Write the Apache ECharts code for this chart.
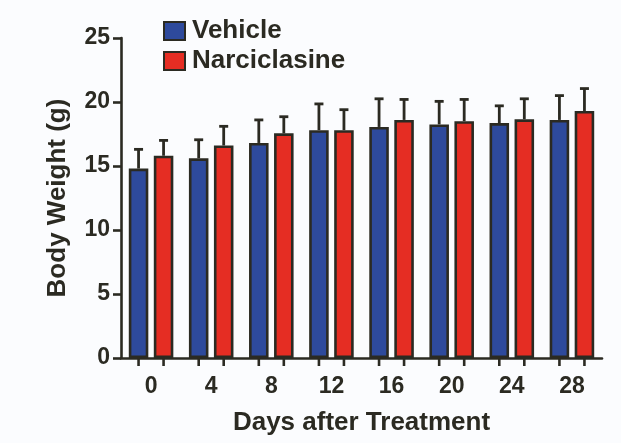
<!DOCTYPE html>
<html>
<head>
<meta charset="utf-8">
<script src="https://cdn.jsdelivr.net/npm/echarts@6/dist/echarts.min.js"></script>
<style>
html,body{margin:0;padding:0;background:#fbfcfe;}
#chart{width:621px;height:443px;}
</style>
</head>
<body>
<div id="chart"></div>
<script>
const categories = ['0', '4', '8', '12', '16', '20', '24', '28'];
const vehicleMean = [14.8, 15.6, 16.8, 17.8, 18.05, 18.25, 18.35, 18.6];
const vehicleErr = [1.5, 1.45, 1.8, 2.05, 2.2, 1.8, 1.35, 1.9];
const narcMean = [15.8, 16.6, 17.55, 17.8, 18.6, 18.5, 18.65, 19.3];
const narcErr = [1.2, 1.5, 1.3, 1.6, 1.6, 1.7, 1.6, 1.75];
const yTicks = [0, 5, 10, 15, 20, 25];

const INK = '#2b2a22';
const FONT = '"Liberation Sans", Arial, Helvetica, sans-serif';
const BAR_W = 0.325;   // fraction of band
const BAR_GAP = 0.28;  // fraction of bar width

function offsetFor(seriesIdx, band) {
  const w = band * BAR_W;
  const g = w * BAR_GAP;
  const d = (w + g) / 2;
  return seriesIdx === 0 ? -d : d;
}

function errRender(which, means, errs) {
  return function (params, api) {
    const i = api.value(0);
    const base = api.coord([i, means[i]]);
    const top = api.coord([i, means[i] + errs[i]]);
    const band = api.size([1, 0])[0];
    const x = base[0] + offsetFor(which, band);
    const cap = 4.5;
    return {
      type: 'group',
      children: [
        { type: 'line', shape: { x1: x, y1: base[1], x2: x, y2: top[1] }, style: { stroke: INK, lineWidth: 2.8 } },
        { type: 'line', shape: { x1: x - cap, y1: top[1], x2: x + cap, y2: top[1] }, style: { stroke: INK, lineWidth: 2.8 } }
      ]
    };
  };
}

function tickRender(params, api) {
  const i = api.value(0);
  const zero = api.coord([i, 0]);
  const band = api.size([1, 0])[0];
  const kids = [0, 1].map(function (s) {
    const x = zero[0] + offsetFor(s, band);
    return { type: 'line', shape: { x1: x, y1: zero[1], x2: x, y2: zero[1] + 8 }, style: { stroke: INK, lineWidth: 2.6 } };
  });
  return { type: 'group', children: kids };
}

const chart = echarts.init(document.getElementById('chart'));
chart.setOption({
  backgroundColor: '#fbfcfe',
  animation: false,
  grid: { left: 121, right: 19, top: 38, bottom: 85 },
  legend: {
    orient: 'vertical',
    left: 158,
    top: 13,
    icon: 'rect',
    itemWidth: 21,
    itemHeight: 18,
    itemGap: 4,
    itemStyle: { borderColor: INK, borderWidth: 2 },
    textStyle: { fontFamily: FONT, fontWeight: 'bold', fontSize: 26, lineHeight: 26, color: INK, padding: [0, 0, 0, 2] },
    data: ['Vehicle', 'Narciclasine']
  },
  xAxis: {
    type: 'category',
    data: categories,
    name: 'Days after Treatment',
    nameLocation: 'middle',
    nameGap: 52,
    nameTextStyle: { fontFamily: FONT, fontWeight: 'bold', fontSize: 26, color: INK },
    axisLine: { lineStyle: { color: INK, width: 2.6 } },
    axisTick: { show: false },
    axisLabel: { fontFamily: FONT, fontWeight: 'bold', fontSize: 23, color: INK, margin: 17 }
  },
  yAxis: {
    type: 'value',
    min: yTicks[0],
    max: yTicks[yTicks.length - 1],
    interval: 5,
    name: 'Body Weight (g)',
    nameLocation: 'middle',
    nameGap: 50,
    nameTextStyle: { fontFamily: FONT, fontWeight: 'bold', fontSize: 26, color: INK },
    axisLine: { show: true, lineStyle: { color: INK, width: 2.6 } },
    axisTick: { show: true, length: 8, lineStyle: { color: INK, width: 2.6 } },
    axisLabel: { fontFamily: FONT, fontWeight: 'bold', fontSize: 23, color: INK, margin: 11 },
    splitLine: { show: false }
  },
  series: [
    {
      name: 'Vehicle', type: 'bar', data: vehicleMean,
      barWidth: (BAR_W * 100) + '%', barGap: (BAR_GAP * 100) + '%',
      itemStyle: { color: '#2e4a9c', borderColor: INK, borderWidth: 2.6 }
    },
    {
      name: 'Narciclasine', type: 'bar', data: narcMean,
      barWidth: (BAR_W * 100) + '%', barGap: (BAR_GAP * 100) + '%',
      itemStyle: { color: '#e52d23', borderColor: INK, borderWidth: 2.6 }
    },
    {
      type: 'custom', name: 'vErr', renderItem: errRender(0, vehicleMean, vehicleErr),
      data: categories.map(function (c, i) { return [i]; }), z: 1
    },
    {
      type: 'custom', name: 'nErr', renderItem: errRender(1, narcMean, narcErr),
      data: categories.map(function (c, i) { return [i]; }), z: 1
    },
    {
      type: 'custom', name: 'ticks', renderItem: tickRender, clip: false,
      data: categories.map(function (c, i) { return [i]; }), z: 5
    }
  ]
});
</script>
</body>
</html>
